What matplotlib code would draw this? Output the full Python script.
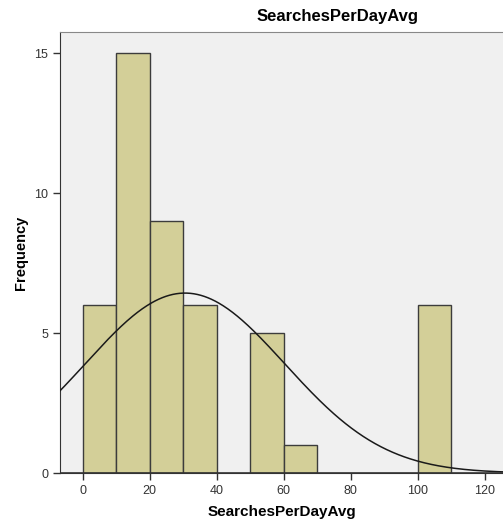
import numpy as np
import matplotlib.pyplot as plt

# histogram data (bin width 10)
bin_left = [0, 10, 20, 30, 40, 50, 60, 70, 80, 90, 100]
counts = [6, 15, 9, 6, 0, 5, 1, 0, 0, 0, 6]
bin_width = 10

# normal curve parameters
n_total = 48
curve_mean = 30.5
curve_sd = 29.8

plt.rcParams['font.family'] = ['Liberation Sans', 'DejaVu Sans']

fig = plt.figure(figsize=(5.03, 5.25), dpi=100)
ax = fig.add_axes([60 / 503, 52 / 525, 443 / 503, 441 / 525])
ax.set_facecolor('#f0f0f0')

for left, c in zip(bin_left, counts):
    if c > 0:
        ax.bar(left, c, width=bin_width, align='edge', color='#d3cf98',
               edgecolor='#3c3c3c', linewidth=1.0, zorder=2)

xs = np.linspace(-10, 130, 400)
ys = n_total * bin_width / (curve_sd * np.sqrt(2 * np.pi)) * \
    np.exp(-(xs - curve_mean) ** 2 / (2 * curve_sd ** 2))
ax.plot(xs, ys, color='#1a1a1a', linewidth=1.1, zorder=3)

ax.set_xlim(-6.8, 125.4)
ax.set_ylim(0, 15.75)
ax.set_xticks([0, 20, 40, 60, 80, 100, 120])
ax.set_yticks([0, 5, 10, 15])
ax.tick_params(direction='out', length=5, width=1, color='#333333',
               labelsize=9, labelcolor='#333333')

ax.spines['right'].set_visible(False)
ax.spines['top'].set_color('#888888')
ax.spines['left'].set_color('#333333')
ax.spines['bottom'].set_color('#333333')
ax.axhline(0, color='#333333', linewidth=1.2, zorder=4)

ax.set_xlabel('SearchesPerDayAvg', fontsize=11, fontweight='bold')
ax.xaxis.set_label_coords(0.5, -39 / 441)
ax.set_ylabel('Frequency', fontsize=10.5, fontweight='bold')
ax.yaxis.set_label_coords(-39 / 443, 0.5)
ax.yaxis.label.set_va('center')
ax.xaxis.label.set_va('center')

fig.text(338 / 503, 1 - 17 / 525, 'SearchesPerDayAvg', fontsize=12,
         fontweight='bold', ha='center', va='center')

fig.savefig('out.png', dpi=100)
